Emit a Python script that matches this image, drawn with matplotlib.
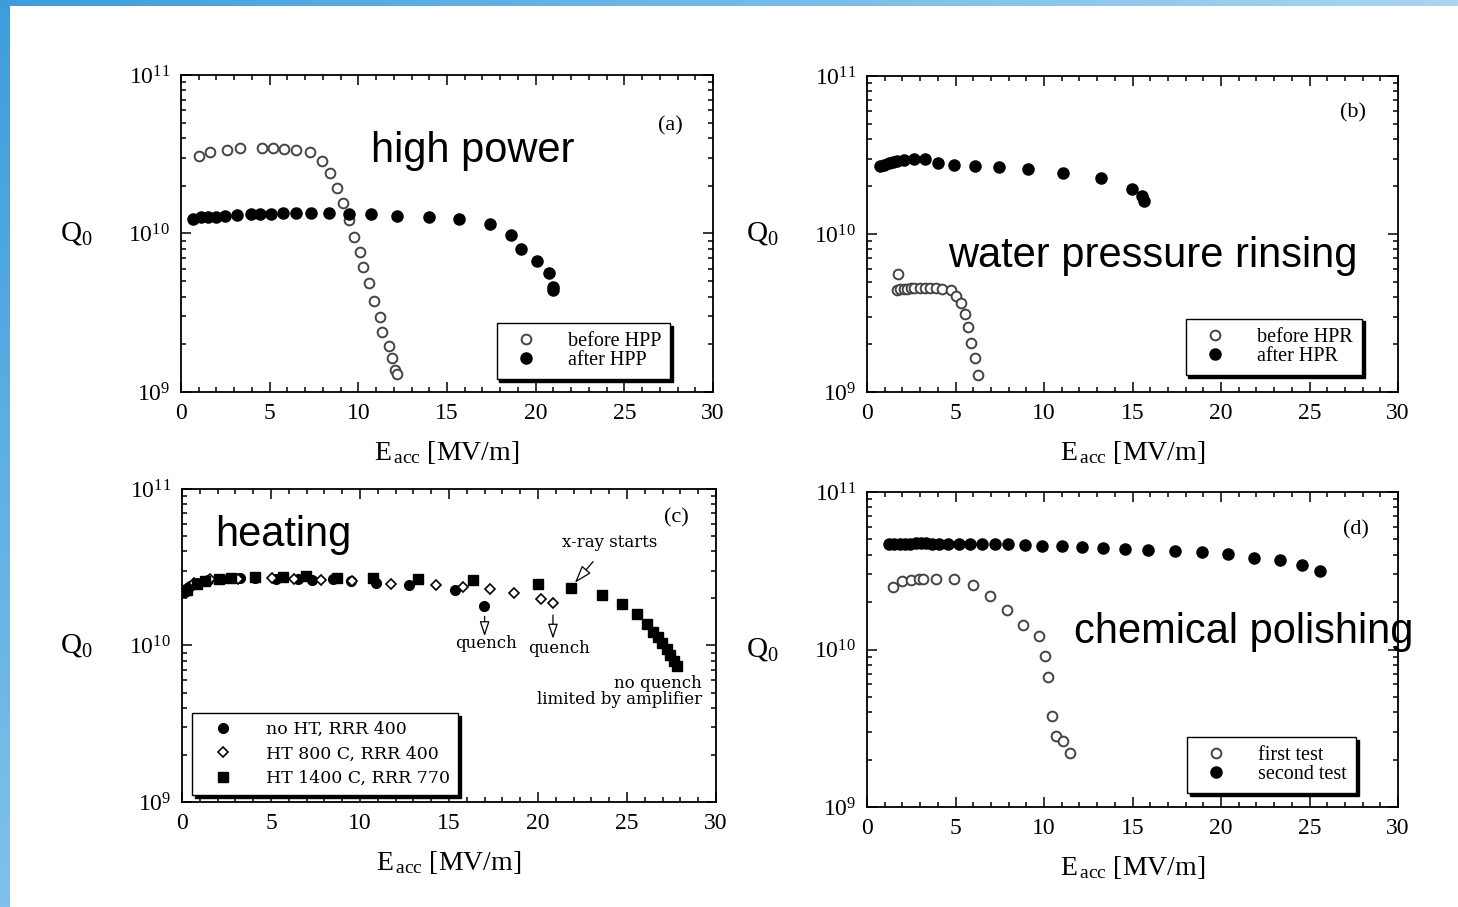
import numpy as np
import matplotlib
matplotlib.use("Agg")
import matplotlib.pyplot as plt
from matplotlib.ticker import LogLocator, MultipleLocator, NullFormatter

plt.rcParams['font.family'] = 'serif'
plt.rcParams['font.serif'] = ['Liberation Serif', 'DejaVu Serif']
plt.rcParams['mathtext.fontset'] = 'custom'
plt.rcParams['mathtext.rm'] = 'Liberation Serif'
plt.rcParams['mathtext.it'] = 'Liberation Serif:italic'

# (a) high power processing
a_before_e = [1.01, 1.61, 2.60, 3.30, 4.57, 5.17, 5.82, 6.48, 7.25, 7.93, 8.42, 8.78, 9.16,
              9.46, 9.74, 10.09, 10.27, 10.61, 10.87, 11.21, 11.36, 11.72, 11.88, 12.06, 12.18]
a_before_q = [3.10e10, 3.29e10, 3.38e10, 3.44e10, 3.45e10, 3.45e10, 3.42e10, 3.38e10, 3.26e10,
              2.88e10, 2.40e10, 1.93e10, 1.55e10, 1.22e10, 9.57e9, 7.66e9, 6.11e9, 4.86e9,
              3.75e9, 2.99e9, 2.40e9, 1.95e9, 1.63e9, 1.37e9, 1.30e9]
a_after_e = [0.70, 1.11, 1.55, 1.95, 2.50, 3.16, 3.97, 4.47, 5.07, 5.74, 6.48, 7.31, 8.34,
             9.50, 10.71, 12.18, 13.99, 15.70, 17.42, 18.60, 19.19, 20.07, 20.78, 20.98, 20.98]
a_after_q = [1.23e10, 1.28e10, 1.28e10, 1.28e10, 1.29e10, 1.31e10, 1.32e10, 1.33e10, 1.33e10,
             1.34e10, 1.34e10, 1.34e10, 1.34e10, 1.32e10, 1.32e10, 1.29e10, 1.28e10, 1.24e10,
             1.15e10, 9.8e9, 7.96e9, 6.67e9, 5.60e9, 4.63e9, 4.42e9]

# (b) high pressure water rinsing
b_before_e = [1.77, 1.67, 1.87, 2.07, 2.28, 2.48, 2.68, 2.98, 3.28, 3.58, 3.89, 4.25, 4.73,
              5.05, 5.29, 5.54, 5.70, 5.90, 6.10, 6.26]
b_before_q = [5.62e9, 4.42e9, 4.46e9, 4.48e9, 4.50e9, 4.52e9, 4.55e9, 4.57e9, 4.57e9, 4.57e9,
              4.52e9, 4.50e9, 4.42e9, 4.08e9, 3.64e9, 3.12e9, 2.56e9, 2.04e9, 1.65e9, 1.29e9]
b_after_e = [0.72, 0.97, 1.23, 1.47, 1.67, 2.07, 2.64, 3.28, 3.99, 4.93, 6.10, 7.47, 9.12,
             11.07, 13.21, 14.96, 15.56, 15.66]
b_after_q = [2.70e10, 2.74e10, 2.80e10, 2.86e10, 2.91e10, 2.94e10, 2.97e10, 2.97e10, 2.82e10,
             2.75e10, 2.71e10, 2.64e10, 2.56e10, 2.44e10, 2.26e10, 1.93e10, 1.73e10, 1.61e10]

# (c) heat treatment
c_noht_e = [0.16, 0.46, 0.86, 1.47, 2.27, 3.28, 4.08, 5.28, 6.49, 7.29, 8.50, 9.50, 10.91,
            12.76, 15.33, 16.94]
c_noht_q = [2.21e10, 2.40e10, 2.52e10, 2.62e10, 2.66e10, 2.69e10, 2.69e10, 2.67e10, 2.65e10,
            2.62e10, 2.65e10, 2.58e10, 2.49e10, 2.42e10, 2.26e10, 1.79e10]
c_ht800_e = [0.22, 0.66, 1.57, 3.17, 5.04, 6.29, 7.80, 9.56, 11.75, 14.29, 15.77, 17.30,
             18.65, 20.15, 20.86]
c_ht800_q = [2.29e10, 2.49e10, 2.65e10, 2.67e10, 2.69e10, 2.65e10, 2.62e10, 2.57e10, 2.48e10,
             2.45e10, 2.38e10, 2.29e10, 2.15e10, 1.99e10, 1.86e10]
c_ht1400_e = [0.26, 0.86, 1.27, 2.07, 2.77, 4.08, 5.69, 6.99, 8.70, 10.75, 13.26, 16.36, 20.01,
              21.88, 23.57, 24.73, 25.58, 26.14, 26.48, 26.74, 26.98, 27.23, 27.43, 27.63, 27.83]
c_ht1400_q = [2.25e10, 2.46e10, 2.58e10, 2.67e10, 2.69e10, 2.72e10, 2.74e10, 2.78e10, 2.71e10,
              2.70e10, 2.65e10, 2.63e10, 2.47e10, 2.33e10, 2.10e10, 1.85e10, 1.58e10, 1.38e10,
              1.22e10, 1.14e10, 1.04e10, 9.48e9, 8.73e9, 7.98e9, 7.41e9]

# (d) chemical polishing
d_first_e = [1.45, 1.99, 2.49, 2.92, 3.16, 3.92, 4.93, 5.97, 6.94, 7.92, 8.81, 9.69, 10.05,
             10.25, 10.45, 10.65, 11.10, 11.45]
d_first_q = [2.49e10, 2.72e10, 2.77e10, 2.81e10, 2.82e10, 2.81e10, 2.81e10, 2.56e10, 2.19e10,
             1.79e10, 1.44e10, 1.21e10, 9.16e9, 6.70e9, 3.79e9, 2.81e9, 2.61e9, 2.21e9]
d_second_e = [1.25, 1.55, 1.85, 2.15, 2.45, 2.75, 3.06, 3.36, 3.66, 4.06, 4.56, 5.17, 5.81,
              6.49, 7.24, 7.98, 8.91, 9.91, 11.02, 12.13, 13.33, 14.58, 15.89, 17.39, 18.90,
              20.39, 21.88, 23.31, 24.59, 25.62]
d_second_q = [4.67e10, 4.67e10, 4.69e10, 4.71e10, 4.71e10, 4.73e10, 4.73e10, 4.73e10, 4.71e10,
              4.71e10, 4.71e10, 4.71e10, 4.71e10, 4.69e10, 4.65e10, 4.65e10, 4.59e10, 4.55e10,
              4.51e10, 4.47e10, 4.39e10, 4.34e10, 4.28e10, 4.22e10, 4.13e10, 4.02e10, 3.83e10,
              3.70e10, 3.46e10, 3.17e10]

OPEN = dict(marker='o', ls='none', ms=7, mfc='white', mec='#444444', mew=1.4)
FILLED = dict(marker='o', ls='none', ms=8, color='black')
SANS = ['Liberation Sans', 'DejaVu Sans']


def setup_axes(ax, tag, tag_pos):
    """Log Q0 axis vs Eacc, inward ticks on all four sides."""
    ax.set_yscale('log')
    ax.set_xlim(0, 30)
    ax.set_ylim(1e9, 1e11)
    ax.xaxis.set_major_locator(MultipleLocator(5))
    ax.xaxis.set_minor_locator(MultipleLocator(1))
    ax.yaxis.set_major_locator(LogLocator(base=10))
    ax.yaxis.set_minor_locator(LogLocator(base=10, subs=range(2, 10)))
    ax.yaxis.set_minor_formatter(NullFormatter())
    ax.tick_params(which='both', direction='in', top=True, right=True, width=1.1)
    ax.tick_params(which='major', length=7, labelsize=17, pad=8)
    ax.tick_params(which='minor', length=3.5)
    for s in ax.spines.values():
        s.set_linewidth(1.3)
    ax.set_xlabel(r'E$_{\,\rm acc}$ [MV/m]', fontsize=20, labelpad=11)
    ax.text(-0.197, 0.5, r'Q$_0$', transform=ax.transAxes, fontsize=21,
            ha='center', va='center')
    ax.text(tag_pos[0], tag_pos[1], tag, transform=ax.transAxes, fontsize=16,
            ha='center', va='center')


def add_legend(ax, loc, anchor):
    ax.legend(loc=loc, bbox_to_anchor=anchor, borderaxespad=0, frameon=True,
              fancybox=False, edgecolor='black', framealpha=1, numpoints=1,
              shadow={'color': 'black', 'alpha': 1}, fontsize=14.5,
              handletextpad=1.1, labelspacing=0.0, borderpad=0.45, handlelength=2.0)


fig = plt.figure(figsize=(14.58, 9.07), dpi=100)

# slide decoration: blue gradient bars on top and left
bg = fig.add_axes([0, 0, 1, 1], zorder=-5)
bg.axis('off')
bg.set_xlim(0, 1458)
bg.set_ylim(907, 0)
top_grad = np.linspace(0, 1, 256).reshape(1, -1)
left_grad = np.linspace(0, 1, 256).reshape(-1, 1)
cm_top = matplotlib.colors.LinearSegmentedColormap.from_list('t', ['#3d9ddc', '#a9d6f1'])
cm_left = matplotlib.colors.LinearSegmentedColormap.from_list('l', ['#3d9ddc', '#7fc1ea'])
bg.imshow(top_grad, cmap=cm_top, extent=[0, 1458, 6, 0], aspect='auto')
bg.imshow(left_grad, cmap=cm_left, extent=[0, 10, 907, 0], aspect='auto')

ax_a = fig.add_axes([0.12414, 0.56781, 0.36488, 0.34950])
ax_b = fig.add_axes([0.59465, 0.56781, 0.36420, 0.34840])
ax_c = fig.add_axes([0.12483, 0.11577, 0.36626, 0.34510])
ax_d = fig.add_axes([0.59465, 0.11025, 0.36420, 0.34730])

# (a)
setup_axes(ax_a, '(a)', (0.919, 0.84))
ax_a.plot(a_before_e, a_before_q, label='before HPP', **OPEN)
ax_a.plot(a_after_e, a_after_q, label='after HPP', **FILLED)
add_legend(ax_a, 'lower right', (0.92, 0.04))
ax_a.text(16.47, 3.3e10, 'high power', family=SANS, fontsize=30, ha='center', va='center')

# (b)
setup_axes(ax_b, '(b)', (0.915, 0.883))
ax_b.plot(b_before_e, b_before_q, label='before HPR', **OPEN)
ax_b.plot(b_after_e, b_after_q, label='after HPR', **FILLED)
add_legend(ax_b, 'lower right', (0.932, 0.054))
ax_b.text(16.16, 7.26e9, 'water pressure rinsing', family=SANS, fontsize=30,
          ha='center', va='center')

# (c)
setup_axes(ax_c, '(c)', (0.925, 0.907))
ax_c.plot(c_noht_e, c_noht_q, marker='o', ls='none', ms=7, color='black',
          label='no HT, RRR 400')
ax_c.plot(c_ht800_e, c_ht800_q, marker='D', ls='none', ms=5, mfc='white', mec='black',
          mew=1.2, label='HT 800 C, RRR 400')
ax_c.plot(c_ht1400_e, c_ht1400_q, marker='s', ls='none', ms=7, color='black',
          label='HT 1400 C, RRR 770')
ax_c.legend(loc='lower left', bbox_to_anchor=(0.019, 0.022), borderaxespad=0,
            frameon=True, fancybox=False, edgecolor='black', framealpha=1, numpoints=1,
            shadow={'color': 'black', 'alpha': 1},
            prop={'family': 'DejaVu Serif', 'size': 12.5},
            handletextpad=1.2, labelspacing=0.45, borderpad=0.45, handlelength=2.6)
ax_c.text(5.67, 5.08e10, 'heating', family=SANS, fontsize=30, ha='center', va='center')
note = dict(family='DejaVu Serif', fontsize=12)
arrow = dict(arrowstyle='-|>,head_length=0.9,head_width=0.3', fc='white', ec='black', lw=0.9)
ax_c.annotate('x-ray starts', xy=(21.97, 2.44e10), xytext=(24.0, 4.52e10), ha='center',
              va='center', arrowprops=dict(arrow, shrinkA=7, shrinkB=2), **note)
ax_c.annotate('', xy=(17.0, 1.10e10), xytext=(17.0, 1.60e10), arrowprops=arrow)
ax_c.text(17.1, 1.03e10, 'quench', ha='center', va='center', **note)
ax_c.annotate('', xy=(20.84, 1.06e10), xytext=(20.84, 1.63e10), arrowprops=arrow)
ax_c.text(21.2, 9.5e9, 'quench', ha='center', va='center', **note)
ax_c.text(29.2, 5.75e9, 'no quench', ha='right', va='center', **note)
ax_c.text(29.2, 4.49e9, 'limited by amplifier', ha='right', va='center', **note)

# (d)
setup_axes(ax_d, '(d)', (0.921, 0.879))
ax_d.plot(d_first_e, d_first_q, label='first test', **OPEN)
ax_d.plot(d_second_e, d_second_q, label='second test', **FILLED)
add_legend(ax_d, 'lower right', (0.921, 0.044))
ax_d.text(21.3, 1.29e10, 'chemical polishing', family=SANS, fontsize=30,
          ha='center', va='center', clip_on=False)

fig.savefig('out.png', dpi=100)
